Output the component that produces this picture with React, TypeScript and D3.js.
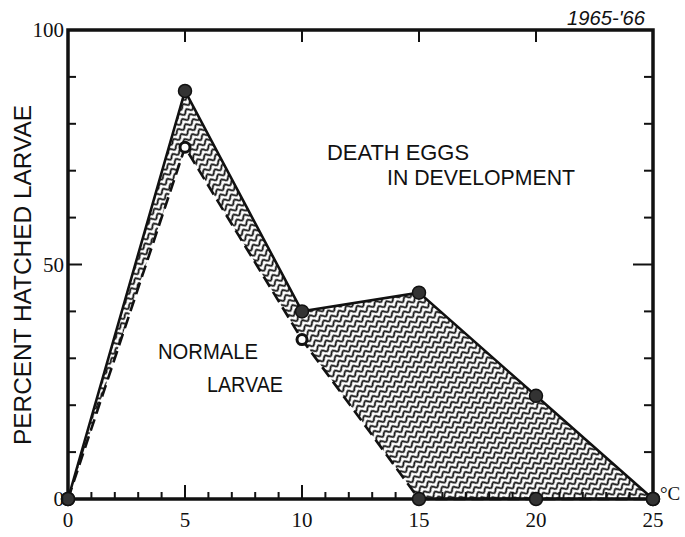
import React from "react";
import * as d3 from "d3";

// temperature (°C) and percent values
const temps = [0, 5, 10, 15, 20, 25];
const totalPct = [0, 87, 40, 44, 22, 0]; // solid line: all eggs reaching hatching / death in development
const normalPct = [0, 75, 34, 0, 0, 0]; // dashed line: normal larvae
const xTickLabels = [0, 5, 10, 15, 20, 25];
const yTickLabels = [0, 50, 100];

export default function App() {
  const W = 685;
  const H = 537;
  const left = 68;
  const right = 653;
  const top = 30;
  const bottom = 499;

  const x = d3.scaleLinear().domain([0, 25]).range([left, right]);
  const y = d3.scaleLinear().domain([0, 100]).range([bottom, top]);

  const pts = temps.map((t, i) => ({ t, hi: totalPct[i], lo: normalPct[i] }));

  const area = d3
    .area<{ t: number; hi: number; lo: number }>()
    .x((d) => x(d.t))
    .y0((d) => y(d.lo))
    .y1((d) => y(d.hi));
  const upper = d3
    .line<{ t: number; hi: number; lo: number }>()
    .x((d) => x(d.t))
    .y((d) => y(d.hi));
  const lower = d3
    .line<{ t: number; hi: number; lo: number }>()
    .x((d) => x(d.t))
    .y((d) => y(d.lo));

  // one wave for the hatch pattern (two periods per tile)
  const wave = d3
    .line<number>()
    .x((d) => d)
    .y((d) => 3 + 1.9 * Math.sin((d / 9) * 2 * Math.PI))
    .curve(d3.curveBasis)(d3.range(-1, 20, 1));

  const minorX = d3.range(0, 26, 1);
  const yTicks = d3.range(10, 100, 10);
  const ink = "#111";

  return (
    <svg width={W} height={H} style={{ position: "absolute", left: 0, top: 0, background: "#fff" }}>
      <defs>
        <pattern
          id="wavy"
          width={18}
          height={6}
          patternUnits="userSpaceOnUse"
          patternTransform="rotate(-33)"
        >
          <path d={wave || ""} fill="none" stroke={ink} strokeWidth={1.9} />
        </pattern>
      </defs>

      {/* hatched band: eggs that died in development */}
      <path d={area(pts) || ""} fill="url(#wavy)" stroke="none" />

      {/* frame */}
      <rect x={left} y={top} width={right - left} height={bottom - top} fill="none" stroke={ink} strokeWidth={3.5} />

      {/* bottom ticks */}
      {minorX.map((v) => (
        <line
          key={"bx" + v}
          x1={x(v)}
          x2={x(v)}
          y1={bottom}
          y2={bottom - (v === 5 || v === 10 ? 14 : 7)}
          stroke={ink}
          strokeWidth={2}
        />
      ))}
      {/* top ticks */}
      {[5, 10, 15, 20].map((v) => (
        <line key={"tx" + v} x1={x(v)} x2={x(v)} y1={top} y2={top + 12} stroke={ink} strokeWidth={2} />
      ))}
      {/* left / right ticks */}
      {yTicks.map((v) => (
        <g key={"yt" + v}>
          <line x1={left} x2={left + (v === 50 ? 14 : 8)} y1={y(v)} y2={y(v)} stroke={ink} strokeWidth={2} />
          <line x1={right} x2={right - (v === 50 ? 20 : 9)} y1={y(v)} y2={y(v)} stroke={ink} strokeWidth={2} />
        </g>
      ))}

      {/* lines */}
      <path d={lower(pts) || ""} fill="none" stroke={ink} strokeWidth={2.6} strokeDasharray="12,6" />
      <path d={upper(pts) || ""} fill="none" stroke={ink} strokeWidth={2.6} />

      {/* markers */}
      {pts.map((d) => (
        <circle key={"hi" + d.t} cx={x(d.t)} cy={y(d.hi)} r={6.5} fill="#333" stroke={ink} strokeWidth={1.5} />
      ))}
      {pts.map((d) =>
        d.lo > 0 ? (
          <circle key={"lo" + d.t} cx={x(d.t)} cy={y(d.lo)} r={5} fill="#fff" stroke={ink} strokeWidth={3} />
        ) : (
          <circle key={"lo" + d.t} cx={x(d.t)} cy={y(d.lo)} r={6.5} fill="#333" stroke={ink} strokeWidth={1.5} />
        )
      )}

      {/* tick labels */}
      <g fontFamily="'Liberation Serif', serif" fontSize={21} fill={ink}>
        {xTickLabels.map((v) => (
          <text key={"xl" + v} x={x(v)} y={bottom + 28} textAnchor="middle">
            {v}
          </text>
        ))}
        {yTickLabels.map((v) => (
          <text key={"yl" + v} x={left - 4} y={y(v) + 7} textAnchor="end">
            {v}
          </text>
        ))}
      </g>

      {/* labels */}
      <g fontFamily="'Liberation Sans Narrow', 'Liberation Sans', sans-serif" fill={ink}>
        <text
          transform={`translate(${31},${275}) rotate(-90)`}
          textAnchor="middle"
          fontSize={23}
          textLength={340}
          lengthAdjust="spacingAndGlyphs"
        >
          PERCENT HATCHED LARVAE
        </text>
        <text x={327} y={160} fontSize={22} textLength={142} lengthAdjust="spacingAndGlyphs">
          DEATH  EGGS
        </text>
        <text x={387} y={185} fontSize={22} textLength={188} lengthAdjust="spacingAndGlyphs">
          IN DEVELOPMENT
        </text>
        <text x={158} y={359} fontSize={22} textLength={100} lengthAdjust="spacingAndGlyphs">
          NORMALE
        </text>
        <text x={207} y={392} fontSize={22} textLength={76} lengthAdjust="spacingAndGlyphs">
          LARVAE
        </text>
      </g>
      <text
        x={567}
        y={25}
        fontFamily="'Liberation Sans Narrow', 'Liberation Sans', sans-serif"
        fontStyle="italic"
        fontSize={21}
        textLength={78}
        lengthAdjust="spacingAndGlyphs"
        fill={ink}
      >
        1965-'66
      </text>
      <text x={660} y={500} fontFamily="'Liberation Serif', serif" fontSize={19} fill={ink}>
        °C
      </text>
    </svg>
  );
}
